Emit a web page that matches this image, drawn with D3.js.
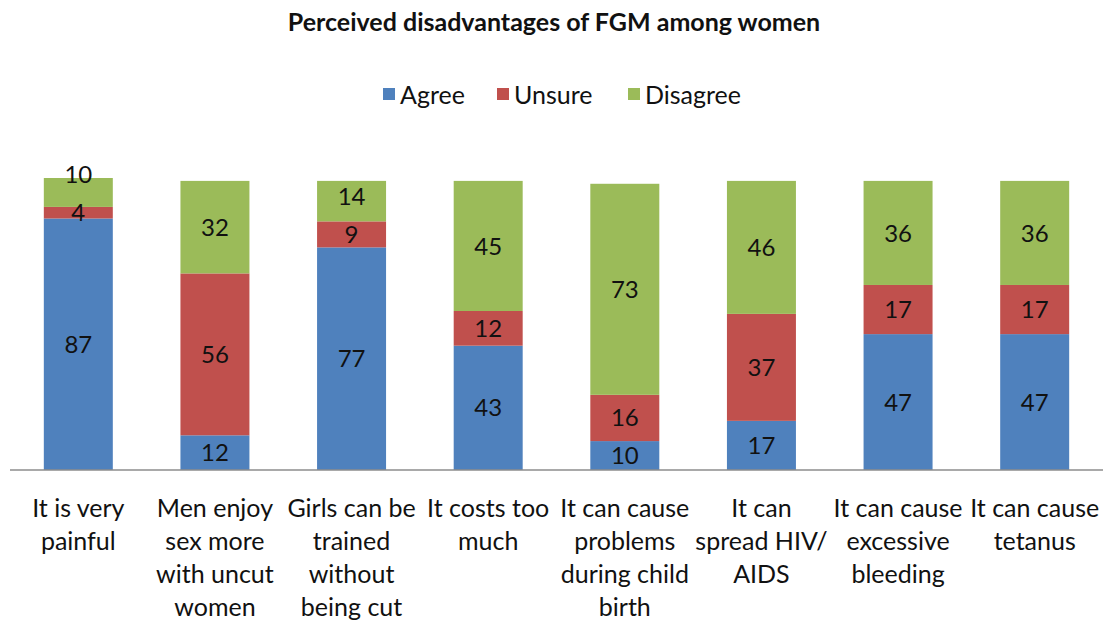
<!DOCTYPE html>
<html>
<head>
<meta charset="utf-8">
<script src="https://cdn.jsdelivr.net/npm/d3@7"></script>
<style>
  body { margin: 0; background: #fff; }
  text { font-family: Lato, "Open Sans", sans-serif; }
</style>
</head>
<body>
<script>
// Chart data
const categories = [
    ["It is very", "painful"],
    ["Men enjoy", "sex more", "with uncut", "women"],
    ["Girls can be", "trained", "without", "being cut"],
    ["It costs too", "much"],
    ["It can cause", "problems", "during child", "birth"],
    ["It can", "spread HIV/", "AIDS"],
    ["It can cause", "excessive", "bleeding"],
    ["It can cause", "tetanus"]
];
const agree = [87, 12, 77, 43, 10, 17, 47, 47];
const unsure = [4, 56, 9, 12, 16, 37, 17, 17];
const disagree = [10, 32, 14, 45, 73, 46, 36, 36];
const seriesNames = ["Agree", "Unsure", "Disagree"];
const colors = ["#4F81BD", "#C0504D", "#9BBB59"];

const width = 1105;
const height = 621;
const margin = { top: 178, right: 2, bottom: 151, left: 10 };

const svg = d3.select("body").append("svg")
    .attr("width", width)
    .attr("height", height);

// build rows for the stack
const rows = categories.map((c, i) => ({ key: i, Agree: agree[i], Unsure: unsure[i], Disagree: disagree[i] }));
const stacked = d3.stack().keys(seriesNames)(rows);

const x = d3.scaleBand()
    .domain(d3.range(categories.length))
    .range([margin.left, width - margin.right])
    .paddingInner(0.495)
    .paddingOuter(0.2475);

const y = d3.scaleLinear()
    .domain([0, 101])
    .range([height - margin.bottom, margin.top]);

// title
svg.append("text")
    .attr("x", 554)
    .attr("y", 31)
    .attr("text-anchor", "middle")
    .style("font-size", "25px")
    .style("font-weight", "bold")
    .attr("fill", "#111")
    .text("Perceived disadvantages of FGM among women");

// legend
const legendX = [383, 497, 628];
const legend = svg.append("g");
seriesNames.forEach((name, i) => {
    legend.append("rect")
        .attr("x", legendX[i])
        .attr("y", 88)
        .attr("width", 12)
        .attr("height", 12)
        .attr("fill", colors[i]);
    legend.append("text")
        .attr("x", legendX[i] + 17)
        .attr("y", 104)
        .style("font-size", "25px")
        .attr("fill", "#111")
        .text(name);
});

// bars
const layers = svg.append("g").selectAll("g")
    .data(stacked)
    .join("g")
    .attr("fill", (d, i) => colors[i]);

layers.selectAll("rect")
    .data(d => d)
    .join("rect")
    .attr("x", (d, i) => x(i))
    .attr("width", x.bandwidth())
    .attr("y", d => y(d[1]))
    .attr("height", d => y(d[0]) - y(d[1]));

// value labels, pushed up when a thin segment would make them collide
const labels = svg.append("g");
const minGap = 38;
categories.forEach((c, i) => {
    let prevY = Infinity;
    stacked.forEach(layer => {
        const d = layer[i];
        let cy = (y(d[0]) + y(d[1])) / 2;
        if (prevY - cy < minGap && prevY !== Infinity) cy = prevY - minGap;
        prevY = cy;
        labels.append("text")
            .attr("x", x(i) + x.bandwidth() / 2)
            .attr("y", cy)
            .attr("dy", "0.36em")
            .attr("text-anchor", "middle")
            .style("font-size", "24px")
            .attr("fill", "#111")
            .text(d.data[layer.key]);
    });
});

// baseline
svg.append("line")
    .attr("x1", margin.left)
    .attr("x2", width - margin.right)
    .attr("y1", y(0))
    .attr("y2", y(0))
    .attr("stroke", "#8c8c8c")
    .attr("stroke-width", 1.5);

// category labels
const catG = svg.append("g");
categories.forEach((lines, i) => {
    const t = catG.append("text")
        .attr("x", x(i) + x.bandwidth() / 2)
        .attr("y", y(0) + 47)
        .attr("text-anchor", "middle")
        .style("font-size", "25px")
        .attr("fill", "#111");
    lines.forEach((line, j) => {
        t.append("tspan")
            .attr("x", x(i) + x.bandwidth() / 2)
            .attr("dy", j === 0 ? 0 : 33)
            .text(line);
    });
});
</script>
</body>
</html>
